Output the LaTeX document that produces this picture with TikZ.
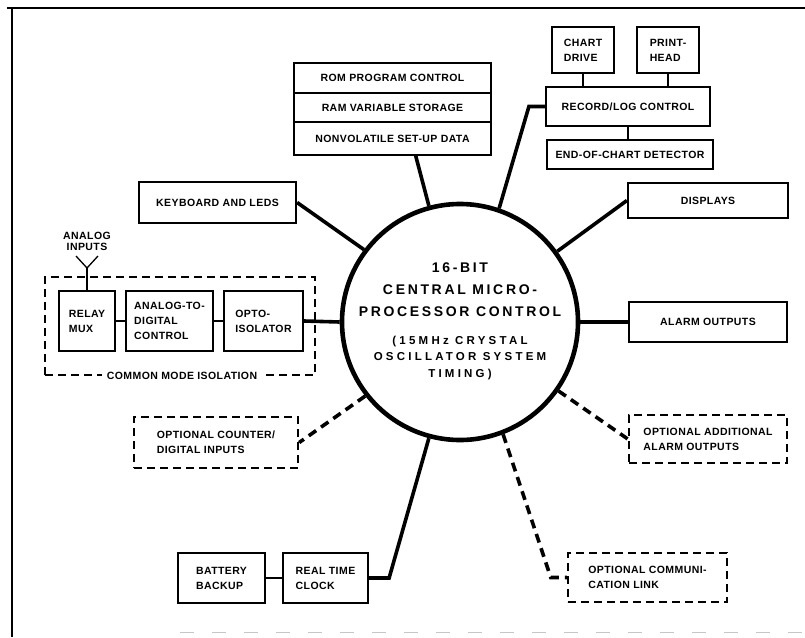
\documentclass[tikz,border=0pt]{standalone}
\usepackage{fontspec}
\setsansfont{Liberation Sans}
\newfontfamily\boxfont[LetterSpace=4]{Liberation Sans}
\newfontfamily\cpufont[LetterSpace=19]{Liberation Sans}
\newfontfamily\timingfont[LetterSpace=28]{Liberation Sans}
\usetikzlibrary{positioning,calc}

\begin{document}
\begin{tikzpicture}[x=1pt, y=-1pt,
    blk/.style={draw, line width=2.2pt, inner sep=2pt, align=center,
      font=\boxfont\bfseries\fontsize{10.5}{15}\selectfont},
    sub/.style={blk, line width=1.4pt},
    opt/.style={blk, dash pattern=on 8pt off 5pt, line width=2.4pt},
    bus/.style={line width=3.6pt},
    wire/.style={line width=1.3pt},
    optbus/.style={bus, dash pattern=on 9pt off 6pt}]
  \useasboundingbox (0,0) rectangle (805,637);
  % frame
  \draw[line width=1.2pt] (7,8) -- (805,8);
  \draw[line width=1.2pt] (12,8) -- (12,637);
  \draw[gray!45, line width=1pt, dash pattern=on 14pt off 18pt] (180,632) -- (805,632);

  % central processor
  \node[circle, draw, line width=4.6pt, minimum size=236pt, inner sep=0pt] (cpu) at (460,322) {};
  \node[font=\cpufont\bfseries\fontsize{14}{22}\selectfont, align=center] (cputitle) at (460,290)
    {16-BIT\\CENTRAL MICRO-\\PROCESSOR CONTROL};
  \node[font=\timingfont\bfseries\fontsize{11.5}{16.5}\selectfont, align=center] (cputiming) at (460,358)
    {(15MHz CRYSTAL\\OSCILLATOR SYSTEM\\TIMING)};

  % memory stack
  \node[blk, outer sep=0pt, minimum width=197pt, minimum height=30pt] (rom) at (392.5,78) {ROM PROGRAM CONTROL};
  \node[blk, outer sep=0pt, minimum width=197pt, minimum height=29pt, below=0pt of rom] (ram) {RAM VARIABLE STORAGE};
  \node[blk, outer sep=0pt, minimum width=197pt, minimum height=33pt, below=0pt of ram] (nvm) {NONVOLATILE SET-UP DATA};

  % recorder
  \node[blk, minimum width=164pt, minimum height=39pt] (rec) at (628,106.5) {RECORD/LOG CONTROL};
  \node[sub, align=left, minimum width=62pt, minimum height=46pt] (chart) at (583,50) {CHART\\DRIVE};
  \node[sub, align=left, minimum width=62pt, minimum height=46pt] (phead) at (668,50) {PRINT-\\HEAD};
  \node[sub, minimum width=166pt, minimum height=29pt] (eoc) at (630,154.5) {END-OF-CHART DETECTOR};
  \draw[wire] (chart.south) -- (chart.south |- rec.north);
  \draw[wire] (phead.south) -- (phead.south |- rec.north);
  \draw[wire] (rec.south) -- (rec.south |- eoc.north);

  % right side
  \node[blk, minimum width=160pt, minimum height=35pt] (disp) at (708,200.5) {DISPLAYS};
  \node[blk, minimum width=158pt, minimum height=40pt] (alarm) at (708,322) {ALARM OUTPUTS};
  \node[opt, align=left, minimum width=158pt, minimum height=48pt] (optalarm) at (708,439)
    {OPTIONAL ADDITIONAL\\ALARM OUTPUTS};
  \node[opt, align=left, minimum width=159pt, minimum height=49pt] (optcomm) at (647.5,577.5)
    {OPTIONAL COMMUNI-\\CATION LINK};

  % left side
  \node[blk, minimum width=157pt, minimum height=41pt] (kbd) at (217.5,202.5) {KEYBOARD AND LEDS};
  \node[opt, minimum width=270pt, minimum height=98pt] (iso) at (180,326) {};
  \node[blk, line width=1.8pt, align=left, minimum width=56pt, minimum height=60pt] (relay) at (87,321) {RELAY\\MUX};
  \node[blk, line width=1.8pt, align=left, minimum width=87pt, minimum height=60pt] (adc) at (169.5,321)
    {ANALOG-TO-\\DIGITAL\\CONTROL};
  \node[blk, line width=1.8pt, align=left, minimum width=79pt, minimum height=60pt] (opto) at (263.5,321)
    {OPTO-\\ISOLATOR};
  \node[fill=white, inner xsep=5pt, inner ysep=1pt, font=\boxfont\bfseries\fontsize{10.5}{12}\selectfont]
    (isolabel) at ([xshift=2pt]iso.south) {COMMON MODE ISOLATION};
  \node[font=\boxfont\bfseries\fontsize{10.5}{11}\selectfont, align=center] (ain) at (87,241) {ANALOG\\INPUTS};
  \coordinate (ant) at (87,268);
  \coordinate (antL) at (76,256);
  \coordinate (antR) at (98,256);
  \draw[wire] (antL) -- (ant) -- (antR);
  \draw[wire] (ant) -- (relay.north);
  \draw[wire] (relay) -- (adc);
  \draw[wire] (adc) -- (opto);

  \node[opt, align=left, minimum width=164pt, minimum height=51pt] (optcnt) at (216,442.5)
    {OPTIONAL COUNTER/\\DIGITAL INPUTS};
  \node[blk, align=left, minimum width=87pt, minimum height=50pt] (batt) at (221.5,578) {BATTERY\\BACKUP};
  \node[blk, align=left, minimum width=85pt, minimum height=50pt] (rtc) at (325.5,578) {REAL TIME\\CLOCK};
  \draw[wire] (batt) -- (rtc);

  % buses to the processor
  \draw[bus] (cpu.105) -- ([xshift=23pt]nvm.south);
  \draw[bus] (cpu.71) -- ([xshift=-16pt]rec.west) -- (rec.west);
  \draw[bus] (cpu.143) -- (kbd.east);
  \draw[bus] (cpu.36) -- (disp.west);
  \draw[bus] (cpu.0) -- (alarm.west);
  \draw[bus] (cpu.180) -- (opto.east);
  \draw[bus] (cpu.-105) -- ([xshift=20pt]rtc.east) -- (rtc.east);
  \draw[optbus] (cpu.-35) -- (optalarm.west);
  \draw[optbus] (cpu.-69) -- ([xshift=-16pt]optcomm.west) -- (optcomm.west);
  \draw[optbus] (cpu.-142) -- (optcnt.east);
\end{tikzpicture}
\end{document}
